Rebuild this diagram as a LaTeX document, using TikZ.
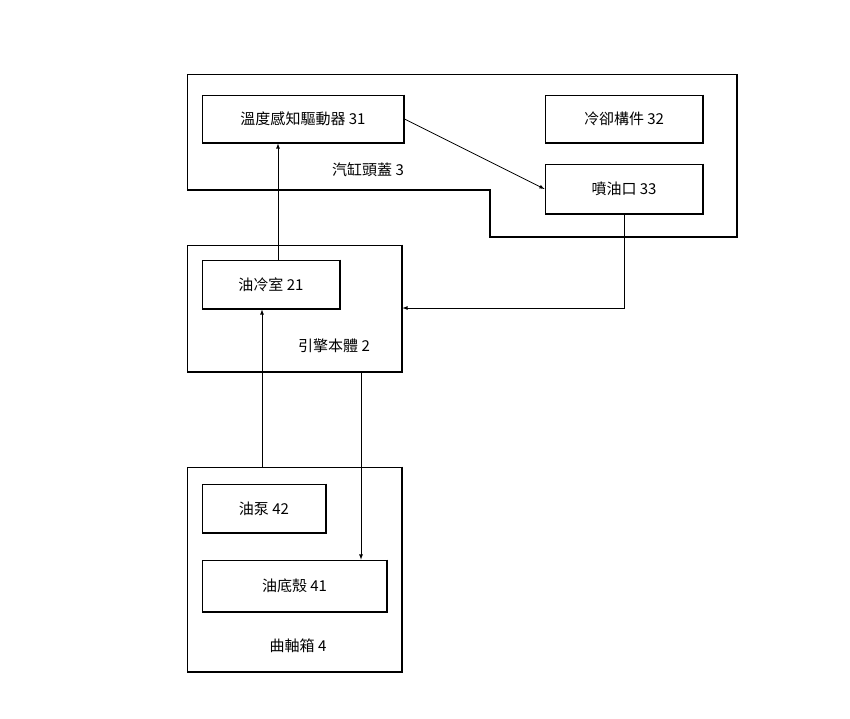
\documentclass[tikz,border=0pt]{standalone}
\usepackage{fontspec}
\setmainfont{Liberation Serif}
\newfontfamily\cjk{Noto Sans CJK TC}
\usetikzlibrary{calc}
\begin{document}
\begin{tikzpicture}[x=1pt,y=-1pt,>=latex,
        blk/.style={draw=black,line width=0.8pt,rectangle,inner sep=0pt,font=\cjk\fontsize{15}{15}\selectfont},
        shade/.style={line width=2pt},
        lbl/.style={font=\cjk\fontsize{15}{15}\selectfont,inner sep=0pt},
        flow/.style={->,line width=0.8pt}]
        \useasboundingbox (0,0) rectangle (850,718);
        % inner blocks
        \node[blk,minimum width=202,minimum height=48] (31) at (303,119) {溫度感知驅動器 31};
        \node[blk,minimum width=158,minimum height=48] (32) at (624,119) {冷卻構件 32};
        \node[blk,minimum width=158,minimum height=50] (33) at (624,189) {噴油口 33};
        \node[blk,minimum width=138,minimum height=49] (21) at (271,284.5) {油冷室 21};
        \node[blk,minimum width=124,minimum height=49] (42) at (264,508.5) {油泵 42};
        \node[blk,minimum width=185,minimum height=52] (41) at (294.5,586) {油底殼 41};
        % outer blocks
        \node[blk,minimum width=215,minimum height=127] (2) at (294.5,308.5) {};
        \node[blk,minimum width=215,minimum height=205] (4) at (294.5,569.5) {};
        \coordinate (h1) at (187,74);
        \coordinate (h2) at (737,237);
        \draw[line width=0.8pt] (h1) -| (h2) -| (490,190) -| cycle;
        \draw[shade] (737,74) -- (h2) -- (490,237) -- (490,190) -- (187,190);
        \foreach \n in {31,32,33,21,42,41,2,4}
          \draw[shade] (\n.north east) |- (\n.south west);
        % labels
        \node[lbl] (l3) at (368,170) {汽缸頭蓋 3};
        \node[lbl] (l2) at (334,346) {引擎本體 2};
        \node[lbl] (l4) at (298,646) {曲軸箱 4};
        % connectors
        \draw[flow] (21.north -| 278,0) -- (31.south -| 278,0);
        \draw[flow] (31.east) -- (33.west);
        \draw[flow] (33.south) |- (2.east |- 0,308);
        \draw[flow] (4.north -| 262,0) -- (21.south -| 262,0);
        \draw[flow] (2.south -| 361,0) -- (41.north -| 361,0);
\end{tikzpicture}
\end{document}
